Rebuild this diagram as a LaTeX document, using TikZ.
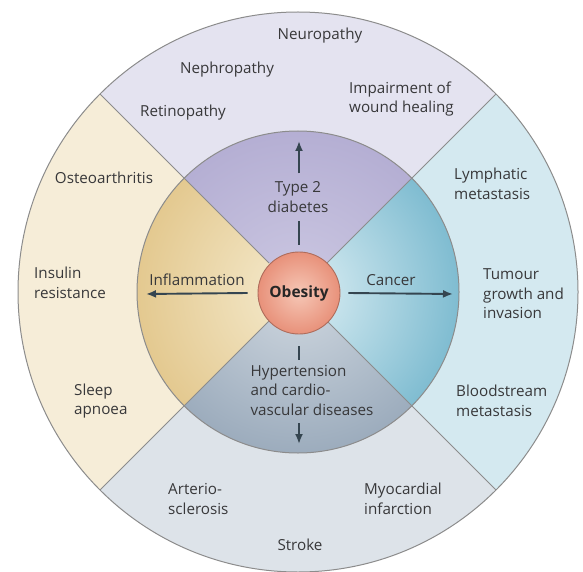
\documentclass[tikz,border=0pt]{standalone}
\usepackage{fontspec}
\setmainfont{Open Sans}
\usetikzlibrary{arrows.meta}

% ring colours
\definecolor{outtop}{HTML}{E4E3F0}
\definecolor{outleft}{HTML}{F6EDD8}
\definecolor{outright}{HTML}{D4E9F0}
\definecolor{outbot}{HTML}{DDE3E9}
\definecolor{intopC}{HTML}{CCC8E2}
\definecolor{intopR}{HTML}{B4AED3}
\definecolor{inleftC}{HTML}{F5EBCF}
\definecolor{inleftR}{HTML}{E3C88E}
\definecolor{inrightC}{HTML}{DDEFF4}
\definecolor{inrightR}{HTML}{7DBBD0}
\definecolor{inbotC}{HTML}{D0D8E0}
\definecolor{inbotR}{HTML}{9BABBC}
\definecolor{coreC}{HTML}{F6C7B6}
\definecolor{coreR}{HTML}{E8917A}
\definecolor{coreBd}{HTML}{AE6C5B}
\definecolor{rule}{HTML}{8C8C8C}
\definecolor{ink}{HTML}{38383A}
\definecolor{arrink}{HTML}{354550}

\begin{document}
\begin{tikzpicture}[x=1pt,y=-1pt,
  txt/.style={font=\fontsize{15.2}{19.5}\selectfont, text=ink, inner sep=0pt},
  core/.style={circle, minimum size=82pt, inner sep=0pt, draw=coreBd, line width=0.9pt,
    inner color=coreC, outer color=coreR,
    font=\fontsize{15.5}{18}\selectfont\bfseries, text=black!85},
  seg/.style={draw=arrink, line width=1.9pt},
  arr/.style={draw=arrink, line width=1.9pt, -{Latex[length=10pt,width=8pt]}},
  ring/.style={draw=rule, line width=1pt}]
\useasboundingbox (0,0) rectangle (583,572);
\fill[white] (0,0) rectangle (583,572);
\coordinate (C) at (298,292);

% outer ring quadrants
\fill[outtop]   (C) -- +(225:280) arc[start angle=225, end angle=315, radius=280] -- cycle;
\fill[outright] (C) -- +(-45:280) arc[start angle=-45, end angle=45, radius=280] -- cycle;
\fill[outbot]   (C) -- +(45:280) arc[start angle=45, end angle=135, radius=280] -- cycle;
\fill[outleft]  (C) -- +(135:280) arc[start angle=135, end angle=225, radius=280] -- cycle;

% inner ring quadrants, shaded from the centre outwards
\begin{scope}
  \clip (C) -- +(225:161) arc[start angle=225, end angle=315, radius=161] -- cycle;
  \shade[inner color=intopC, outer color=intopR] (C) circle[radius=165];
\end{scope}
\begin{scope}
  \clip (C) -- +(-45:161) arc[start angle=-45, end angle=45, radius=161] -- cycle;
  \shade[inner color=inrightC, outer color=inrightR] (C) circle[radius=165];
\end{scope}
\begin{scope}
  \clip (C) -- +(45:161) arc[start angle=45, end angle=135, radius=161] -- cycle;
  \shade[inner color=inbotC, outer color=inbotR] (C) circle[radius=165];
\end{scope}
\begin{scope}
  \clip (C) -- +(135:161) arc[start angle=135, end angle=225, radius=161] -- cycle;
  \shade[inner color=inleftC, outer color=inleftR] (C) circle[radius=165];
\end{scope}

% circles and dividing lines
\draw[ring] (C) circle[radius=280];
\draw[ring] (C) circle[radius=161];
\foreach \a in {45,135,225,315}
  \draw[ring] (C) +(\a:41) -- +(\a:280);

% centre
\node[core] (ob) at (299,293) {Obesity};

% inner ring labels
\node[txt, align=center, inner ysep=8pt] (t2d) at (298,197) {Type 2\\diabetes};
\node[txt] (infl) at (197,280) {Inflammation};
\node[txt] (canc) at (391,280) {Cancer};
\node[txt, align=left, inner ysep=5pt] (hyp) at (312,390) {Hypertension\\and cardio-\\vascular diseases};

% arrows from the centre
\coordinate (upTip) at (299,141);
\coordinate (dnTip) at (299,444);
\coordinate (ltTip) at (146,294);
\coordinate (rtTip) at (453,294);
\draw[seg] (ob.north) ++(0,-7) -- (ob.north |- t2d.south);
\draw[arr] (ob.north |- t2d.north) -- (upTip);
\draw[seg] (ob.south) ++(0,12) -- (ob.south |- hyp.north);
\draw[arr] (ob.south |- hyp.south) ++(0,3) -- (dnTip);
\draw[arr] (ob.west) ++(-10,0) -- (ltTip);
\draw[arr] (ob.east) ++(8,0) -- (rtTip);

% outer ring: diabetes complications
\node[txt] (neuro) at (320,36) {Neuropathy};
\node[txt] (nephro) at (227,70) {Nephropathy};
\node[txt] (retino) at (183,113) {Retinopathy};
\node[txt, align=left, anchor=west] (wound) at (349,99) {Impairment of\\wound healing};

% outer ring: inflammation
\node[txt] (osteo) at (104,178) {Osteoarthritis};
\node[txt, align=left, anchor=west] (insul) at (34,283) {Insulin\\resistance};
\node[txt, align=left, anchor=west] (sleep) at (74,401) {Sleep\\apnoea};

% outer ring: cancer
\node[txt, align=left, anchor=west] (lymph) at (454,184) {Lymphatic\\metastasis};
\node[txt, align=left, anchor=west] (tumour) at (483,294) {Tumour\\growth and\\invasion};
\node[txt, align=left, anchor=west] (blood) at (456,401) {Bloodstream\\metastasis};

% outer ring: cardiovascular
\node[txt, align=left, anchor=west] (arter) at (168,499) {Arterio-\\sclerosis};
\node[txt, align=left, anchor=west] (myo) at (364,499) {Myocardial\\infarction};
\node[txt] (stroke) at (300,545) {Stroke};
\end{tikzpicture}
\end{document}
